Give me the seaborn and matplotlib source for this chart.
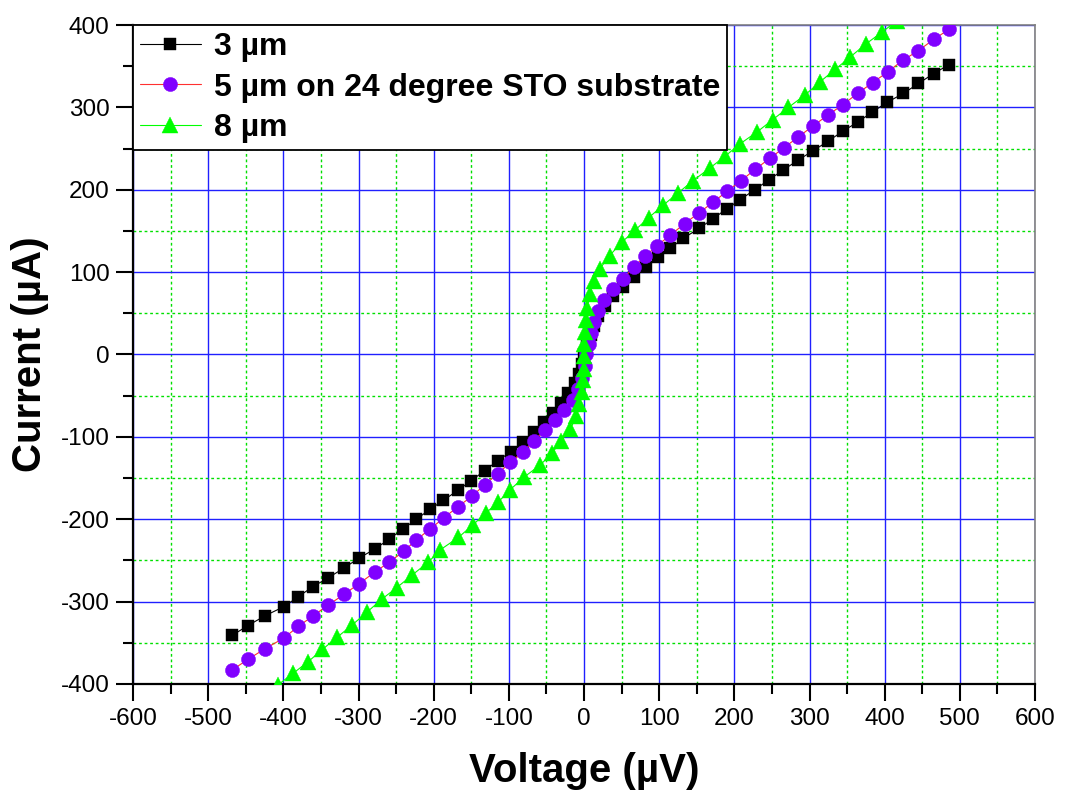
import numpy as np
import pandas as pd
import seaborn as sns
import matplotlib
matplotlib.use('Agg')
from matplotlib import pyplot as plt
from matplotlib.ticker import MultipleLocator

# 3 um junction
v_3um = [-468, -447, -424, -399, -380, -361, -340, -319, -299, -278,
         -259, -241, -223, -205, -187, -168, -150, -132, -115, -97,
         -81, -67, -53, -41, -30, -21, -12, -6, -2, 0,
         4, 9, 13, 19, 28, 39, 52, 67, 82, 98,
         115, 132, 153, 172, 190, 208, 227, 246, 265, 285,
         304, 325, 344, 364, 383, 403, 425, 445, 465, 486]
i_3um = [-341, -329, -317, -306, -294, -282, -271, -259, -247, -236,
         -224, -212, -200, -188, -177, -165, -153, -141, -129, -118,
         -106, -94, -82, -71, -59, -47, -35, -24, -12, 0,
         12, 24, 35, 47, 59, 71, 82, 94, 106, 118,
         129, 141, 153, 165, 177, 188, 200, 212, 224, 236,
         247, 259, 271, 282, 294, 306, 317, 329, 341, 352]

# 5 um junction on 24 degree STO
v_5um = [-468, -447, -424, -399, -380, -360, -340, -319, -299, -278,
         -259, -240, -223, -205, -186, -168, -149, -132, -115, -98,
         -81, -67, -52, -38, -26, -15, -8, -3, 1, 3,
         6, 9, 13, 19, 26, 38, 52, 66, 81, 97,
         115, 134, 153, 172, 190, 209, 228, 247, 266, 285,
         304, 325, 344, 364, 384, 404, 424, 445, 466, 486]
i_5um = [-383, -370, -357, -344, -330, -317, -304, -291, -278, -264,
         -252, -239, -225, -212, -198, -185, -172, -158, -145, -131,
         -118, -105, -92, -80, -67, -55, -42, -28, -14, 0,
         13, 26, 40, 53, 66, 79, 92, 106, 119, 132,
         145, 159, 172, 185, 198, 211, 225, 238, 251, 264,
         277, 291, 303, 317, 330, 343, 357, 369, 383, 395]

# 8 um junction
v_8um = [-428, -407, -387, -367, -348, -328, -308, -289, -269, -249,
         -229, -207, -191, -167, -148, -130, -114, -98, -80, -58,
         -43, -30, -18, -10, -6, -2.5, -1.5, -0.5, 0, 0.5,
         1, 2.5, 4.5, 8, 13, 21, 34, 50, 68, 86,
         105, 125, 145, 167, 188, 208, 230, 251, 272, 294,
         314, 334, 354, 375, 396, 416]
i_8um = [-415, -401, -387, -373, -358, -343, -328, -313, -297, -283,
         -268, -252, -237, -222, -207, -192, -179, -164, -149, -134,
         -120, -105, -90, -75, -60, -46, -31, -17, -2, 13,
         27, 42, 57, 74, 89, 104, 120, 136, 151, 166,
         181, 196, 211, 226, 241, 256, 270, 285, 300, 315,
         331, 346, 361, 377, 391, 405]

x_ticks = list(range(-600, 601, 100))
y_ticks = list(range(-400, 401, 100))


def main():
    sns.set_style('white')
    plt.rcParams['font.family'] = ['Liberation Sans', 'DejaVu Sans']
    plt.rcParams['axes.unicode_minus'] = False
    plt.rcParams['text.color'] = 'black'
    plt.rcParams['axes.labelcolor'] = 'black'
    plt.rcParams['xtick.color'] = 'black'
    plt.rcParams['ytick.color'] = 'black'

    fig = plt.figure(figsize=(10.65, 7.9), dpi=100)
    ax = fig.add_axes([133 / 1065, 1 - 684 / 790, 902 / 1065, 659 / 790])

    d3 = pd.DataFrame({'V': v_3um, 'I': i_3um})
    d5 = pd.DataFrame({'V': v_5um, 'I': i_5um})
    d8 = pd.DataFrame({'V': v_8um, 'I': i_8um})

    sns.lineplot(data=d3, x='V', y='I', sort=False, estimator=None, ax=ax,
                 color='black', lw=0.8, marker='s', ms=9.2, mfc='black', mec='black', mew=0.3,
                 label='3 \u00b5m', zorder=3)
    sns.lineplot(data=d5, x='V', y='I', sort=False, estimator=None, ax=ax,
                 color='#ff3030', lw=0.8, marker='o', ms=10.2, mfc='#8000ff', mec='#8000ff', mew=0.3,
                 label='5 \u00b5m on 24 degree STO substrate', zorder=4)
    sns.lineplot(data=d8, x='V', y='I', sort=False, estimator=None, ax=ax,
                 color='#00ff00', lw=0.8, marker='^', ms=11, mfc='#00ff00', mec='#00ff00', mew=0.3,
                 label='8 \u00b5m', zorder=5)

    ax.set_xlim(-600, 600)
    ax.set_ylim(-400, 400)
    ax.set_xticks(x_ticks)
    ax.set_yticks(y_ticks)
    ax.xaxis.set_minor_locator(MultipleLocator(50))
    ax.yaxis.set_minor_locator(MultipleLocator(50))
    ax.set_axisbelow(True)
    ax.grid(which='major', color='#2020ff', lw=1.0, ls='-')
    ax.grid(which='minor', color='#00e000', lw=1.0, ls=(0, (2, 2)))

    ax.tick_params(which='major', direction='out', length=12, width=1.5, labelsize=17.5,
                   bottom=True, left=True, top=False, right=False, pad=5, colors='black')
    ax.tick_params(which='minor', direction='out', length=7, width=1.5,
                   bottom=True, left=True, top=False, right=False)
    for side in ['left', 'bottom']:
        ax.spines[side].set_color('black')
        ax.spines[side].set_linewidth(1.6)
    for side in ['top', 'right']:
        ax.spines[side].set_color('#808080')
        ax.spines[side].set_linewidth(1.2)

    ax.set_xlabel('Voltage (\u00b5V)', fontsize=29, fontweight='bold', labelpad=16)
    ax.set_ylabel('Current (\u00b5A)', fontsize=29, fontweight='bold', labelpad=8)

    leg = ax.legend(loc='upper left', bbox_to_anchor=(0, 1), borderaxespad=0,
                    fancybox=False, framealpha=1, edgecolor='black',
                    prop={'size': 23, 'weight': 'bold'}, handlelength=1.9,
                    handletextpad=0.4, labelspacing=0.33, borderpad=0.22, numpoints=1)
    leg.get_frame().set_linewidth(1.3)

    fig.savefig('out.png', dpi=100)


if __name__ == '__main__':
    main()
